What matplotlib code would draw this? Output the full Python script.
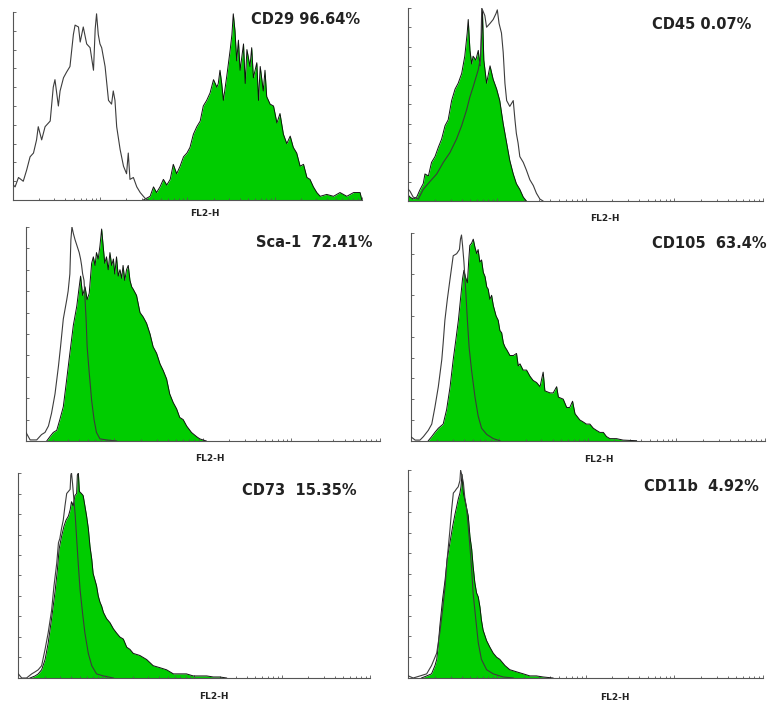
import numpy as np
import matplotlib
matplotlib.use('Agg')
import matplotlib.pyplot as plt

# FL2-H channel (0-1024, 4 log decades) and relative event counts
cd29_iso_ch = [0, 2, 7, 17, 31, 41, 51, 61, 70, 75, 85, 95, 110, 119, 124, 134, 139, 149, 158, 168,
               178, 183, 193, 198, 207, 217, 227, 237, 242, 246, 251, 256, 261, 271, 281, 290, 295, 300,
               305, 315, 325, 334, 339, 344, 354, 364, 374, 388, 398]
cd29_iso_cnt = [40, 8, 7, 12, 10, 16, 23, 25, 32, 39, 32, 39, 42, 60, 64, 50, 58, 65, 68, 71,
                88, 93, 92, 84, 92, 83, 81, 69, 91, 99, 88, 83, 81, 71, 53, 51, 58, 53,
                39, 27, 18, 14, 25, 11, 12, 7, 4, 1, 0]
cd29_ch = [383, 403, 413, 422, 432, 442, 452, 462, 471, 481, 491, 501, 511, 520, 530, 540, 550, 559,
           569, 579, 589, 599, 603, 608, 613, 618, 628, 638, 643, 647, 652, 657, 662, 667, 677, 682,
           687, 696, 701, 706, 716, 721, 726, 735, 740, 745, 755, 765, 775, 784, 794, 804, 814, 823,
           833, 843, 853, 863, 872, 882, 892, 902, 921, 941, 960, 980, 1000, 1019, 1024]
cd29_cnt = [0, 2, 7, 4, 7, 11, 8, 11, 19, 14, 18, 23, 25, 28, 35, 39, 42, 50,
            53, 57, 64, 60, 62, 69, 62, 53, 66, 80, 88, 99, 90, 74, 85, 69, 83, 62,
            80, 71, 81, 65, 73, 53, 71, 58, 69, 55, 51, 50, 41, 46, 35, 30, 34, 28,
            25, 18, 19, 12, 11, 7, 4, 2, 3, 2, 4, 2, 4, 4, 0]

cd45_iso_ch = [0, 5, 14, 29, 43, 62, 82, 101, 120, 139, 154, 168, 178, 187, 197, 202, 209, 212, 221,
               226, 236, 245, 253, 257, 262, 269, 274, 279, 284, 293, 303, 308, 312, 317, 322, 332,
               341, 351, 361, 370, 380, 389]
cd45_iso_cnt = [6, 5, 2, 1, 6, 10, 14, 20, 25, 32, 39, 47, 54, 59, 65, 68, 75, 100, 96,
                90, 92, 94, 97, 99, 92, 87, 77, 61, 52, 49, 52, 42, 35, 30, 23, 20,
                16, 11, 8, 4, 1, 0]
cd45_ch = [0, 5, 14, 24, 34, 43, 48, 58, 67, 77, 87, 96, 106, 115, 125, 135, 144, 154, 163, 170,
           173, 178, 183, 187, 195, 202, 207, 212, 214, 218, 226, 236, 245, 255, 264, 274, 284, 293,
           303, 312, 322, 332, 341]
cd45_cnt = [3, 2, 1, 2, 6, 9, 14, 13, 20, 23, 28, 32, 39, 42, 52, 58, 61, 66, 75, 87,
            94, 78, 71, 75, 73, 78, 70, 87, 99, 73, 61, 70, 63, 58, 52, 40, 30, 21,
            14, 9, 6, 2, 0]

sca1_iso_ch = [0, 12, 31, 45, 55, 65, 74, 84, 94, 100, 108, 118, 122, 127, 130, 133, 137, 142, 148,
               154, 158, 161, 164, 168, 171, 174, 177, 183, 190, 197, 204, 214, 233, 262]
sca1_iso_cnt = [4, 0.5, 0.5, 3, 4, 7, 13, 22, 35, 44, 57, 66, 70, 78, 94, 100, 97, 94, 91,
                88, 85, 82, 78, 75, 66, 57, 44, 32, 19, 10, 4, 1, 0.5, 0]
sca1_ch = [60, 69, 79, 89, 98, 108, 118, 127, 137, 147, 154, 158, 164, 171, 177, 183, 190, 195, 200,
           204, 209, 214, 219, 224, 228, 233, 238, 243, 248, 253, 257, 262, 267, 272, 277, 281, 286,
           291, 296, 301, 306, 310, 320, 330, 339, 349, 359, 368, 378, 388, 397, 407, 416, 426, 436,
           445, 455, 465, 479, 494, 503, 522]
sca1_cnt = [0, 2, 4, 5, 10, 16, 29, 41, 54, 63, 72, 77, 68, 72, 66, 69, 83, 86, 82,
            88, 85, 91, 99, 90, 83, 86, 80, 88, 82, 85, 78, 86, 77, 80, 76, 82, 75,
            80, 82, 75, 72, 71, 68, 60, 58, 55, 50, 44, 41, 36, 33, 29, 22, 18, 15,
            11, 10, 7, 4, 2, 1, 0]

cd105_iso_ch = [0, 13, 27, 37, 51, 61, 70, 80, 90, 94, 99, 106, 114, 123, 133, 141, 144, 147, 150,
                154, 157, 160, 164, 169, 176, 186, 195, 205, 220, 239, 258]
cd105_iso_cnt = [2, 0.3, 0.3, 2, 5, 8, 16, 26, 39, 47, 58, 68, 78, 89, 90, 92, 97, 99, 94,
                 86, 78, 70, 58, 45, 34, 21, 12, 6, 3, 1, 0]
cd105_ch = [51, 61, 70, 80, 94, 104, 114, 123, 131, 138, 144, 150, 154, 158, 164, 168, 171, 176,
            181, 186, 191, 195, 200, 205, 210, 215, 220, 224, 229, 234, 239, 247, 253, 258, 263,
            268, 273, 277, 287, 297, 306, 311, 316, 325, 335, 345, 354, 364, 374, 383, 388, 403,
            412, 422, 427, 441, 451, 460, 468, 475, 489, 499, 508, 518, 528, 537, 547, 557, 566,
            576, 595, 614, 653]
cd105_cnt = [0, 2, 4, 6, 8, 15, 26, 39, 49, 58, 68, 78, 82, 79, 76, 87, 94, 95,
             97, 93, 90, 92, 86, 87, 81, 79, 74, 73, 68, 70, 65, 60, 58, 53, 52,
             47, 45, 44, 41, 41, 42, 36, 37, 34, 34, 31, 29, 28, 26, 33, 24, 23,
             23, 26, 21, 20, 16, 16, 19, 13, 10, 9, 8, 8, 6, 5, 4, 4, 2,
             1, 1, 0.3, 0]

cd73_iso_ch = [0, 10, 24, 39, 49, 58, 68, 78, 87, 97, 104, 112, 117, 121, 126, 131, 136, 141, 146,
               151, 153, 155, 158, 162, 166, 170, 175, 180, 187, 194, 204, 214, 228, 248, 277]
cd73_iso_cnt = [2, 0, 0, 2, 3, 4, 6, 14, 22, 33, 45, 56, 66, 68, 73, 77, 84, 90, 91,
                92, 99, 100, 95, 87, 79, 68, 55, 43, 32, 22, 12, 6, 2, 1, 0]
cd73_ch = [34, 49, 58, 68, 78, 87, 97, 107, 114, 119, 126, 133, 139, 146, 151, 155, 160, 165, 170,
           172, 175, 178, 184, 189, 194, 199, 204, 209, 214, 218, 223, 228, 233, 238, 243, 248, 257,
           267, 277, 286, 296, 306, 316, 325, 335, 354, 374, 393, 413, 432, 452, 471, 490, 510, 529,
           549, 568, 587, 607]
cd73_cnt = [0, 1, 2, 4, 9, 17, 29, 42, 53, 63, 69, 74, 77, 79, 82, 86, 84, 89, 90,
            99, 100, 91, 90, 89, 84, 79, 73, 64, 58, 51, 48, 45, 40, 37, 35, 32, 29,
            27, 24, 22, 20, 19, 15, 14, 12, 11, 9, 6, 5, 4, 2, 2, 2, 1, 1,
            1, 0.5, 0.5, 0]

cd11b_iso_ch = [0, 14, 34, 53, 67, 82, 91, 99, 106, 112, 120, 125, 130, 135, 139, 144, 149, 151, 154,
                159, 163, 168, 173, 178, 183, 187, 195, 202, 211, 226, 245, 274, 303]
cd11b_iso_cnt = [1, 0, 1, 2, 6, 12, 22, 33, 44, 57, 71, 81, 89, 90, 91, 92, 95, 100, 98,
                 94, 87, 82, 73, 63, 52, 41, 28, 17, 9, 4, 2, 0.5, 0]
cd11b_ch = [38, 53, 67, 77, 82, 86, 91, 99, 106, 112, 120, 128, 135, 139, 144, 149, 152, 155, 159,
            163, 168, 173, 178, 183, 187, 192, 197, 202, 207, 211, 216, 226, 235, 245, 255, 264,
            279, 293, 312, 332, 351, 370, 389, 418]
cd11b_cnt = [0, 1, 2, 6, 9, 15, 25, 38, 47, 57, 65, 73, 79, 82, 86, 89, 92, 98, 89,
             86, 82, 78, 68, 62, 54, 46, 41, 39, 34, 28, 23, 18, 15, 12, 10, 9,
             6, 4, 3, 2, 1, 1, 0.5, 0]

labels = ['CD29 96.64%', 'CD45 0.07%', 'Sca-1  72.41%', 'CD105  63.4%', 'CD73  15.35%', 'CD11b  4.92%']

panels = [
    (cd29_ch, cd29_cnt, cd29_iso_ch, cd29_iso_cnt),
    (cd45_ch, cd45_cnt, cd45_iso_ch, cd45_iso_cnt),
    (sca1_ch, sca1_cnt, sca1_iso_ch, sca1_iso_cnt),
    (cd105_ch, cd105_cnt, cd105_iso_ch, cd105_iso_cnt),
    (cd73_ch, cd73_cnt, cd73_iso_ch, cd73_iso_cnt),
    (cd11b_ch, cd11b_cnt, cd11b_iso_ch, cd11b_iso_cnt),
]

# axes rectangles [left, bottom, width, height] in figure fraction
rects = [
    [0.0165, 0.715, 0.454, 0.268],
    [0.531, 0.7137, 0.461, 0.275],
    [0.0338, 0.3718, 0.460, 0.305],
    [0.534, 0.3722, 0.4607, 0.296],
    [0.0238, 0.0342, 0.457, 0.292],
    [0.531, 0.0342, 0.461, 0.296],
]
# label position (axes fraction, right/top anchored) and FL2-H position
label_pos = [(0.994, 1.0), (0.969, 0.953), (0.98, 0.963), (1.006, 0.985), (0.963, 0.951), (0.99, 0.96)]
xlab_pos = [(0.55, -0.05), (0.555, -0.07), (0.52, -0.06), (0.53, -0.07), (0.556, -0.07), (0.583, -0.07)]

# log-decade tick positions on a 1024-channel scale
major_ticks = [256 * d for d in range(5)]
minor_ticks = [256 * np.log10(m * 10 ** d) for d in range(4) for m in range(2, 10)]

fig = plt.figure(figsize=(7.69, 7.02), dpi=100)

for i, (ch, cnt, iso_ch, iso_cnt) in enumerate(panels):
    ax = fig.add_axes(rects[i])
    ax.fill_between(ch, cnt, 0, color='#00cc00', linewidth=0, zorder=1)
    ax.plot(ch, cnt, color='#111111', linewidth=0.7, zorder=2)
    ax.plot(iso_ch, iso_cnt, color='#3c3c3c', linewidth=0.8, zorder=3)

    ax.set_xlim(0, 1024)
    ax.set_ylim(0, 100)
    ax.set_xticks(major_ticks)
    ax.set_xticks(minor_ticks, minor=True)
    ax.set_yticks(range(0, 101, 10))
    ax.tick_params(axis='both', which='both', direction='in', labelbottom=False, labelleft=False,
                   color='#555555', width=0.6)
    ax.tick_params(axis='both', which='major', length=2.5)
    ax.tick_params(axis='x', which='minor', length=1.5)
    for side in ['top', 'right']:
        ax.spines[side].set_visible(False)
    for side in ['left', 'bottom']:
        ax.spines[side].set_color('#555555')
        ax.spines[side].set_linewidth(0.8)

    lx, ly = label_pos[i]
    ax.text(lx, ly, labels[i], transform=ax.transAxes, ha='right', va='top',
            fontsize=10.5, fontweight='bold', color='#222222', clip_on=False)
    ax.set_xlabel('FL2-H', fontsize=6.5, fontweight='bold', color='#222222')
    ax.xaxis.set_label_coords(*xlab_pos[i])

plt.savefig('out.png', dpi=100)
